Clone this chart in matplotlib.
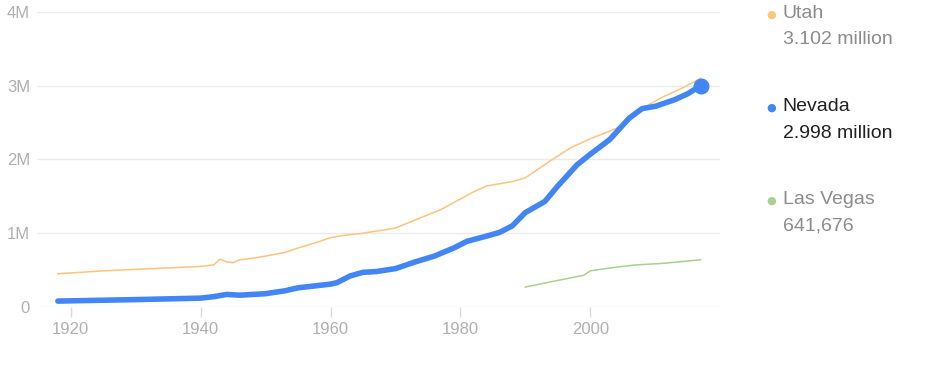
import matplotlib.pyplot as plt
from matplotlib.ticker import FuncFormatter

plt.rcParams['font.family'] = ['Liberation Sans', 'DejaVu Sans']

# Population estimates (millions)
utah_years = [1918, 1925, 1930, 1935, 1940, 1942, 1943, 1944, 1945, 1946, 1948, 1950, 1953,
              1955, 1958, 1960, 1962, 1965, 1970, 1975, 1977, 1982, 1984, 1988, 1990,
              1994, 1997, 2000, 2004, 2008, 2011, 2014, 2017]
utah_pop = [0.45, 0.49, 0.51, 0.53, 0.55, 0.57, 0.65, 0.61, 0.60, 0.64, 0.66, 0.69, 0.74,
            0.80, 0.88, 0.94, 0.97, 1.00, 1.07, 1.25, 1.32, 1.56, 1.64, 1.70, 1.75,
            1.99, 2.16, 2.28, 2.42, 2.69, 2.84, 2.96, 3.10]

nevada_years = [1918, 1930, 1940, 1942, 1944, 1946, 1950, 1953, 1955, 1958, 1960, 1961,
                1963, 1965, 1967, 1970, 1973, 1976, 1979, 1981, 1984, 1986, 1988, 1990,
                1993, 1995, 1998, 2000, 2003, 2006, 2008, 2010, 2013, 2015, 2017]
nevada_pop = [0.08, 0.10, 0.12, 0.14, 0.17, 0.16, 0.18, 0.22, 0.26, 0.29, 0.31, 0.33,
              0.42, 0.47, 0.48, 0.52, 0.61, 0.69, 0.80, 0.89, 0.96, 1.01, 1.10, 1.28,
              1.43, 1.64, 1.93, 2.07, 2.27, 2.56, 2.69, 2.72, 2.81, 2.89, 3.00]

vegas_years = [1990, 1995, 1999, 2000, 2004, 2007, 2011, 2017]
vegas_pop = [0.27, 0.36, 0.43, 0.49, 0.54, 0.57, 0.59, 0.64]

series = ['Utah', 'Nevada', 'Las Vegas']
latest = ['3.102 million', '2.998 million', '641,676']
colors = ['#fcc47c', '#4285f4', '#a9d18e']
label_colors = ['#8c8c8c', '#212121', '#8c8c8c']

fig = plt.figure(figsize=(9.5, 3.73), dpi=100)
ax = fig.add_axes([0.039, 0.177, 0.719, 0.791])

ax.plot(utah_years, [v * 1e6 for v in utah_pop], color=colors[0], lw=1.1, zorder=3)
ax.plot(vegas_years, [v * 1e6 for v in vegas_pop], color=colors[2], lw=1.1, zorder=3)
ax.plot(nevada_years, [v * 1e6 for v in nevada_pop], color=colors[1], lw=4,
        solid_capstyle='round', solid_joinstyle='round', zorder=4)
ax.plot(nevada_years[-1], nevada_pop[-1] * 1e6, 'o', color=colors[1], ms=10.5, zorder=5,
        clip_on=False)

ax.set_xlim(1914.8, 2020)
ax.set_ylim(0, 4e6)
ax.set_xticks([1920, 1940, 1960, 1980, 2000])
ax.set_yticks([0, 1e6, 2e6, 3e6, 4e6])
ax.yaxis.set_major_formatter(FuncFormatter(lambda v, p: '0' if v == 0 else f'{int(v / 1e6)}M'))
ax.grid(axis='y', color='#ebebeb', lw=1)
ax.set_axisbelow(True)
for s in ax.spines.values():
    s.set_visible(False)
ax.tick_params(axis='x', colors='#dadada', length=7, width=1, labelcolor='#b0b0b0',
               labelsize=12, pad=4)
ax.tick_params(axis='y', length=0, labelcolor='#b0b0b0', labelsize=12, pad=5)

# side legend with latest values
ys = [0.965, 0.715, 0.465]
for name, val, c, lc, y in zip(series, latest, colors, label_colors, ys):
    fig.text(0.8116, y - 0.003, '\u25cf', color=c, fontsize=8, ha='center', va='center',
             family='DejaVu Sans')
    fig.text(0.824, y, name, color=lc, fontsize=14, va='center')
    fig.text(0.824, y - 0.072, val, color=lc, fontsize=14, va='center')

fig.savefig('out.png', dpi=100)
